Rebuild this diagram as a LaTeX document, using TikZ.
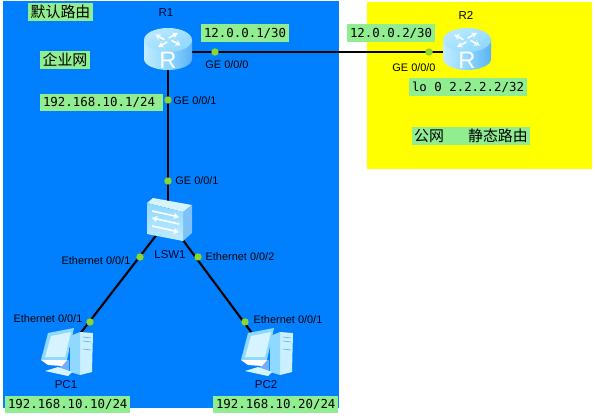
\documentclass[tikz,border=0pt]{standalone}
\usepackage{fontspec}
\setmainfont{Liberation Sans}
\setmonofont{DejaVu Sans Mono}
\newfontfamily\cjk{Noto Sans CJK SC}
\usetikzlibrary{arrows.meta}

\definecolor{netblue}{HTML}{0080FF}
\definecolor{pubyellow}{HTML}{FFFF00}
\definecolor{tagcol}{HTML}{90EE90}
\definecolor{dotcol}{HTML}{8FD62B}
\definecolor{icolite}{HTML}{D6F4FF}
\definecolor{icomid}{HTML}{8FD8FF}
\definecolor{icodark}{HTML}{5CB2F5}

\tikzset{
  link/.style={line width=1.6pt,black},
  devnode/.style={inner sep=0pt,minimum size=2pt},
  porttxt/.style={font=\fontsize{8.2}{10}\selectfont,text=black,inner sep=0pt},
  devtxt/.style={font=\fontsize{8.6}{10}\selectfont,text=black!85!blue,inner sep=0pt},
  ipbox/.style={fill=tagcol,inner xsep=2.25pt,inner ysep=0pt,align=left,font=\ttfamily\fontsize{9.3}{11}\selectfont,text=black},
  cnbox/.style={fill=tagcol,inner sep=0pt,font=\cjk\fontsize{11.2}{13}\selectfont,text=black},
  routericon/.pic={
    \shade[left color=icolite!70!icomid,right color=icodark,middle color=icomid] (-24,-12) -- (-24,7)
      arc[start angle=180,end angle=0,x radius=24,y radius=11] -- (24,-12) -- cycle;
    \shade[left color=icolite!60!icomid,right color=icomid,shading angle=30] (0,-12) ellipse[x radius=24,y radius=12];
    \foreach \a in {45,135,225,315}{
      \draw[white,line width=1.2pt,-{Stealth[length=4pt,width=4.5pt]},shift={(0,-12)},yscale=.55,rotate=\a] (2,3) -- (2,16);
    }
    \node[white,inner sep=0pt,font=\fontsize{17.8}{18}\selectfont] at (0,8.5) {R};
  },
  switchicon/.pic={
    \fill[icolite] (-21,-17) -- (-15,-22) -- (24,-15) -- (15,-8) -- cycle;
    \fill[icodark!80!white] (15,-8) -- (24,-15) -- (24,13) -- (15,21) -- cycle;
    \shade[top color=icomid,bottom color=icolite!70!icomid] (-21,-17) -- (15,-8) -- (15,21) -- (-21,14) -- cycle;
    \foreach \yy/\tips in {-6/->,1/<-,9/->}{
      \draw[white,line width=1.2pt,\tips,>={Stealth[length=4pt,width=5pt]}] (-16,\yy-3) -- (11,\yy+3);
    }
  },
  pcicon/.pic={
    % tower
    \fill[icolite!85!icomid] (14,-20) -- (27,-19) -- (26,20) -- (14,23) -- cycle;
    \fill[icomid] (4,-16) -- (14,-20) -- (14,23) -- (4,20) -- cycle;
    \draw[icodark,line width=.5pt] (17,-15) -- (25,-14) (17,-11) -- (25,-10) (17,-3) -- (25,-2);
    % base and stand
    \fill[icomid!80!blue] (-6,8) -- (3,8) -- (3,20) -- (-6,17) -- cycle;
    \fill[icolite] (-21,19) -- (-8,15) -- (6,20) -- (2,24) -- cycle;
    % monitor
    \fill[icomid] (-18,-19) -- (8,-24) -- (1,8) -- (-25,8) -- cycle;
    \fill[icolite] (-15,-16) -- (5,-20) -- (-1,5) -- (-21,5) -- cycle;
    \fill[white] (-25,8) -- (1,8) -- (-4,14) -- (-18,13) -- cycle;
  },
}

\begin{document}
\begin{tikzpicture}[x=.75pt,y=-.75pt]
  \useasboundingbox (0,0) rectangle (595,417);
  \fill[netblue] (3,1) rectangle (339,408);
  \fill[pubyellow] (367,2) rectangle (592,169);

  \node[devnode] (r1) at (168,52) {};
  \node[devnode] (r2) at (467,52) {};
  \node[devnode] (lsw1) at (168,220) {};
  \node[devnode] (pc1) at (66,352) {};
  \node[devnode] (pc2) at (266,352) {};

  \draw[link] (r1) -- (r2);
  \draw[link] (r1) -- (lsw1);
  \draw[link] (lsw1) -- (pc1);
  \draw[link] (lsw1) -- (pc2);

  \pic at (r1) {routericon};
  \pic at (r2) {routericon};
  \pic at (lsw1) {switchicon};
  \pic at (pc1) {pcicon};
  \pic at (pc2) {pcicon};

  % port dots
  \foreach \i/\px/\py in {1/215/52,2/429/52,3/168/100,4/168/181,5/140/257,6/198/257,7/90/322,8/245/322}{
    \fill[dotcol] (\px,\py) circle[radius=3.7];
  }

  % port and device names
  \foreach \i/\px/\py/\txt in {
    1/227/65/GE 0\slash 0\slash 0,2/414/68/GE 0\slash 0\slash 0,3/195/101/GE 0\slash 0\slash 1,
    4/197/181/GE 0\slash 0\slash 1,5/96/261/Ethernet 0\slash 0\slash 1,6/240/257/Ethernet 0\slash 0\slash 2,
    7/48/319/Ethernet 0\slash 0\slash 1,8/288/320/Ethernet 0\slash 0\slash 1}{
    \node[porttxt] (port\i) at (\px,\py) {\txt};
  }
  \node[devtxt] (r1txt) at (166,13) {R1};
  \node[devtxt] (r2txt) at (466,15) {R2};
  \node[devtxt] (lswtxt) at (170,255) {LSW1};
  \node[devtxt] (pc1txt) at (66,385) {PC1};
  \node[devtxt] (pc2txt) at (266,385) {PC2};

  % address tags
  \foreach \i/\px/\py/\w/\h/\txt in {
    1/245/33/82/18/12.0.0.1\slash 30,2/391/33/82/18/12.0.0.2\slash 30,3/101.5/102.5/117/17/192.168.10.1\slash 24,
    4/468/87/112/18/lo 0 2.2.2.2\slash 32,5/67.5/404.5/119/17/192.168.10.10\slash 24,6/275.5/404.5/119/17/192.168.10.20\slash 24}{
    \node[ipbox,text width=\w*.75pt,minimum height=\h*.75pt] (ip\i) at (\px,\py) {\mbox{\spaceskip=.602em\relax\txt}};
  }
  \node[cnbox,minimum width=48.75pt,minimum height=13.5pt] (cn1) at (60.5,12) {默认路由};
  \node[cnbox,minimum width=37.5pt,minimum height=13.5pt] (cn2) at (65,60) {企业网};
  \node[cnbox,minimum width=88.5pt,minimum height=13.5pt] (cn3) at (471,136) {公网\hspace{18pt}静态路由};
\end{tikzpicture}
\end{document}
